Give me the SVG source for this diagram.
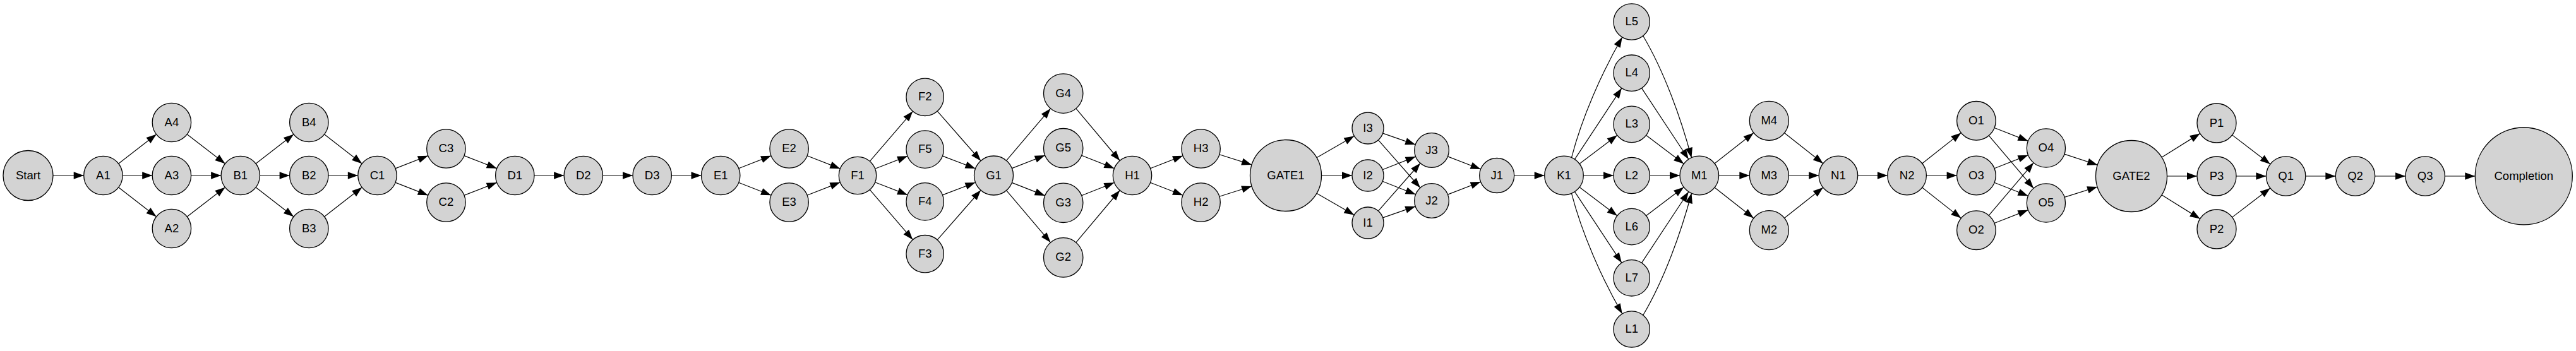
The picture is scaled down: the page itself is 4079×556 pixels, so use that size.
<svg xmlns="http://www.w3.org/2000/svg" width="4079" height="556" viewBox="0 0 4079 556">
<style>
.node circle{fill:#d3d3d3;stroke:#000;stroke-width:1.3}
.node text{font-family:"Liberation Sans",Arial,sans-serif;font-size:18.5px;text-anchor:middle;fill:#000}
.edge{fill:none;stroke:#000;stroke-width:1.2}
</style>
<defs>
<marker id="arrow" markerUnits="userSpaceOnUse" markerWidth="16" markerHeight="12" refX="16" refY="5.7" orient="auto" overflow="visible">
<path d="M0,0 L16,5.7 L0,11.4 z" fill="#000"/>
</marker>
</defs>
<rect x="0" y="0" width="4079" height="556" fill="#fff"/>
<g id="connectors" marker-end="url(#arrow)">
<path class="edge" marker-end="url(#arrow)" d="M84,278 L132.7,278"/>
<path class="edge" marker-end="url(#arrow)" d="M187.67,259.21 L247.63,212.79"/>
<path class="edge" marker-end="url(#arrow)" d="M194.1,278 L241.2,278"/>
<path class="edge" marker-end="url(#arrow)" d="M187.67,296.79 L247.63,343.21"/>
<path class="edge" marker-end="url(#arrow)" d="M296.21,212.75 L356.49,259.25"/>
<path class="edge" marker-end="url(#arrow)" d="M302.6,278 L350.1,278"/>
<path class="edge" marker-end="url(#arrow)" d="M296.21,343.25 L356.49,296.75"/>
<path class="edge" marker-end="url(#arrow)" d="M405.07,259.21 L465.03,212.79"/>
<path class="edge" marker-end="url(#arrow)" d="M411.5,278 L458.6,278"/>
<path class="edge" marker-end="url(#arrow)" d="M405.07,296.79 L465.03,343.21"/>
<path class="edge" marker-end="url(#arrow)" d="M513.55,212.83 L573.25,259.17"/>
<path class="edge" marker-end="url(#arrow)" d="M520,278 L566.8,278"/>
<path class="edge" marker-end="url(#arrow)" d="M513.55,343.17 L573.25,296.83"/>
<path class="edge" marker-end="url(#arrow)" d="M626.1,266.84 L677.8,246.66"/>
<path class="edge" marker-end="url(#arrow)" d="M626.1,289.16 L677.8,309.34"/>
<path class="edge" marker-end="url(#arrow)" d="M735,246.66 L786.7,266.84"/>
<path class="edge" marker-end="url(#arrow)" d="M735,309.34 L786.7,289.16"/>
<path class="edge" marker-end="url(#arrow)" d="M846,278 L893.1,278"/>
<path class="edge" marker-end="url(#arrow)" d="M954.5,278 L1002,278"/>
<path class="edge" marker-end="url(#arrow)" d="M1063.4,278 L1110.5,278"/>
<path class="edge" marker-end="url(#arrow)" d="M1169.78,266.79 L1221.02,246.71"/>
<path class="edge" marker-end="url(#arrow)" d="M1169.78,289.21 L1221.02,309.29"/>
<path class="edge" marker-end="url(#arrow)" d="M1278.18,246.71 L1330.35,267.16"/>
<path class="edge" marker-end="url(#arrow)" d="M1278.18,309.29 L1330.35,288.84"/>
<path class="edge" marker-end="url(#arrow)" d="M1377.35,255.47 L1445.35,176.33"/>
<path class="edge" marker-end="url(#arrow)" d="M1385.69,267.26 L1437.01,247.34"/>
<path class="edge" marker-end="url(#arrow)" d="M1385.69,288.74 L1437.01,308.66"/>
<path class="edge" marker-end="url(#arrow)" d="M1377.35,300.53 L1445.35,379.67"/>
<path class="edge" marker-end="url(#arrow)" d="M1484.27,176.14 L1553.07,254.68"/>
<path class="edge" marker-end="url(#arrow)" d="M1492.46,247.16 L1544.53,266.98"/>
<path class="edge" marker-end="url(#arrow)" d="M1492.46,308.84 L1544.53,289.02"/>
<path class="edge" marker-end="url(#arrow)" d="M1484.27,379.86 L1553.07,301.32"/>
<path class="edge" marker-end="url(#arrow)" d="M1593.55,254.36 L1663.52,171.89"/>
<path class="edge" marker-end="url(#arrow)" d="M1602.35,266.66 L1654.66,246.11"/>
<path class="edge" marker-end="url(#arrow)" d="M1602.35,289.34 L1654.66,309.89"/>
<path class="edge" marker-end="url(#arrow)" d="M1593.55,301.64 L1663.52,384.11"/>
<path class="edge" marker-end="url(#arrow)" d="M1703.79,171.97 L1773.24,254.51"/>
<path class="edge" marker-end="url(#arrow)" d="M1712.71,246.19 L1764.46,266.69"/>
<path class="edge" marker-end="url(#arrow)" d="M1712.71,309.81 L1764.46,289.31"/>
<path class="edge" marker-end="url(#arrow)" d="M1703.79,384.03 L1773.24,301.49"/>
<path class="edge" marker-end="url(#arrow)" d="M1821.59,266.81 L1873.01,246.69"/>
<path class="edge" marker-end="url(#arrow)" d="M1821.59,289.19 L1873.01,309.31"/>
<path class="edge" marker-end="url(#arrow)" d="M1930.87,244.76 L1982.13,260.97"/>
<path class="edge" marker-end="url(#arrow)" d="M1930.87,311.24 L1982.13,295.03"/>
<path class="edge" marker-end="url(#arrow)" d="M2084.94,249.77 L2144.34,215.49"/>
<path class="edge" marker-end="url(#arrow)" d="M2092.5,278 L2141,278"/>
<path class="edge" marker-end="url(#arrow)" d="M2084.94,306.23 L2144.34,340.51"/>
<path class="edge" marker-end="url(#arrow)" d="M2189.62,211.19 L2241.2,229.06"/>
<path class="edge" marker-end="url(#arrow)" d="M2182.5,221.78 L2248.99,297.49"/>
<path class="edge" marker-end="url(#arrow)" d="M2189.24,268.79 L2241.62,248.05"/>
<path class="edge" marker-end="url(#arrow)" d="M2189.24,287.21 L2241.62,307.95"/>
<path class="edge" marker-end="url(#arrow)" d="M2182.5,334.22 L2248.99,258.51"/>
<path class="edge" marker-end="url(#arrow)" d="M2189.62,344.81 L2241.2,326.94"/>
<path class="edge" marker-end="url(#arrow)" d="M2292.45,247.87 L2344.56,268.06"/>
<path class="edge" marker-end="url(#arrow)" d="M2292.45,308.13 L2344.56,287.94"/>
<path class="edge" marker-end="url(#arrow)" d="M2397.7,278 L2445.7,278"/>
<path class="edge" marker-end="url(#arrow)" d="M2488.5,249.6 C2504.8,186.55 2536.2,115.3 2568.7,59"/>
<path class="edge" marker-end="url(#arrow)" d="M2493.47,252.3 L2567.88,139.65"/>
<path class="edge" marker-end="url(#arrow)" d="M2501.06,259.42 L2560.81,214.21"/>
<path class="edge" marker-end="url(#arrow)" d="M2507.3,278 L2555,278"/>
<path class="edge" marker-end="url(#arrow)" d="M2501.06,296.58 L2560.81,341.79"/>
<path class="edge" marker-end="url(#arrow)" d="M2493.47,303.7 L2567.88,416.35"/>
<path class="edge" marker-end="url(#arrow)" d="M2488.5,306.4 C2504.8,369.45 2536.2,440.7 2568.7,497"/>
<path class="edge" marker-end="url(#arrow)" d="M2601.7,56.7 C2634.9,112.6 2661.8,187.2 2678.5,250"/>
<path class="edge" marker-end="url(#arrow)" d="M2599.51,139.66 L2673.84,252.29"/>
<path class="edge" marker-end="url(#arrow)" d="M2606.58,214.23 L2666.25,259.41"/>
<path class="edge" marker-end="url(#arrow)" d="M2612.4,278 L2660,278"/>
<path class="edge" marker-end="url(#arrow)" d="M2606.58,341.77 L2666.25,296.59"/>
<path class="edge" marker-end="url(#arrow)" d="M2599.51,416.34 L2673.84,303.71"/>
<path class="edge" marker-end="url(#arrow)" d="M2601.7,499.3 C2634.9,443.4 2661.8,368.8 2678.5,306"/>
<path class="edge" marker-end="url(#arrow)" d="M2715.03,258.99 L2776.75,210.56"/>
<path class="edge" marker-end="url(#arrow)" d="M2721.6,278 L2770.3,278"/>
<path class="edge" marker-end="url(#arrow)" d="M2715.03,297.01 L2776.75,345.44"/>
<path class="edge" marker-end="url(#arrow)" d="M2825.77,210.66 L2886.82,258.95"/>
<path class="edge" marker-end="url(#arrow)" d="M2832.3,278 L2880.2,278"/>
<path class="edge" marker-end="url(#arrow)" d="M2825.77,345.34 L2886.82,297.05"/>
<path class="edge" marker-end="url(#arrow)" d="M2941.6,278 L2988.9,278"/>
<path class="edge" marker-end="url(#arrow)" d="M3043.69,258.98 L3105.23,210.39"/>
<path class="edge" marker-end="url(#arrow)" d="M3050.3,278 L3098.6,278"/>
<path class="edge" marker-end="url(#arrow)" d="M3043.69,297.02 L3105.23,345.61"/>
<path class="edge" marker-end="url(#arrow)" d="M3158.09,202.51 L3211.4,223.36"/>
<path class="edge" marker-end="url(#arrow)" d="M3149.33,214.78 L3220.1,298.17"/>
<path class="edge" marker-end="url(#arrow)" d="M3158.06,266.72 L3211.43,245.71"/>
<path class="edge" marker-end="url(#arrow)" d="M3158.06,289.28 L3211.43,310.29"/>
<path class="edge" marker-end="url(#arrow)" d="M3149.33,341.22 L3220.1,257.83"/>
<path class="edge" marker-end="url(#arrow)" d="M3158.09,353.49 L3211.4,332.64"/>
<path class="edge" marker-end="url(#arrow)" d="M3268.96,244.07 L3321.34,261.32"/>
<path class="edge" marker-end="url(#arrow)" d="M3269.09,312.32 L3321.1,295.96"/>
<path class="edge" marker-end="url(#arrow)" d="M3422.97,249.15 L3483.68,211.38"/>
<path class="edge" marker-end="url(#arrow)" d="M3431.5,279 L3479,279"/>
<path class="edge" marker-end="url(#arrow)" d="M3422.97,308.85 L3483.68,346.62"/>
<path class="edge" marker-end="url(#arrow)" d="M3534.6,213.86 L3594.84,260.02"/>
<path class="edge" marker-end="url(#arrow)" d="M3541,279 L3588.4,279"/>
<path class="edge" marker-end="url(#arrow)" d="M3534.6,344.14 L3594.84,297.98"/>
<path class="edge" marker-end="url(#arrow)" d="M3650.8,279 L3698.3,279"/>
<path class="edge" marker-end="url(#arrow)" d="M3760.7,279 L3809,279"/>
<path class="edge" marker-end="url(#arrow)" d="M3871.4,279 L3919.3,279"/>
</g>
<g id="node-Start" class="node"><circle cx="44.5" cy="278" r="39.5"/><text x="44.5" y="283.5">Start</text></g>
<g id="node-A1" class="node"><circle cx="163.4" cy="278" r="30.7"/><text x="163.4" y="283.5">A1</text></g>
<g id="node-A4" class="node"><circle cx="271.9" cy="194" r="30.7"/><text x="271.9" y="199.5">A4</text></g>
<g id="node-A3" class="node"><circle cx="271.9" cy="278" r="30.7"/><text x="271.9" y="283.5">A3</text></g>
<g id="node-A2" class="node"><circle cx="271.9" cy="362" r="30.7"/><text x="271.9" y="367.5">A2</text></g>
<g id="node-B1" class="node"><circle cx="380.8" cy="278" r="30.7"/><text x="380.8" y="283.5">B1</text></g>
<g id="node-B4" class="node"><circle cx="489.3" cy="194" r="30.7"/><text x="489.3" y="199.5">B4</text></g>
<g id="node-B2" class="node"><circle cx="489.3" cy="278" r="30.7"/><text x="489.3" y="283.5">B2</text></g>
<g id="node-B3" class="node"><circle cx="489.3" cy="362" r="30.7"/><text x="489.3" y="367.5">B3</text></g>
<g id="node-C1" class="node"><circle cx="597.5" cy="278" r="30.7"/><text x="597.5" y="283.5">C1</text></g>
<g id="node-C3" class="node"><circle cx="706.4" cy="235.5" r="30.7"/><text x="706.4" y="241">C3</text></g>
<g id="node-C2" class="node"><circle cx="706.4" cy="320.5" r="30.7"/><text x="706.4" y="326">C2</text></g>
<g id="node-D1" class="node"><circle cx="815.3" cy="278" r="30.7"/><text x="815.3" y="283.5">D1</text></g>
<g id="node-D2" class="node"><circle cx="923.8" cy="278" r="30.7"/><text x="923.8" y="283.5">D2</text></g>
<g id="node-D3" class="node"><circle cx="1032.7" cy="278" r="30.7"/><text x="1032.7" y="283.5">D3</text></g>
<g id="node-E1" class="node"><circle cx="1141.2" cy="278" r="30.7"/><text x="1141.2" y="283.5">E1</text></g>
<g id="node-E2" class="node"><circle cx="1249.6" cy="235.5" r="30.7"/><text x="1249.6" y="241">E2</text></g>
<g id="node-E3" class="node"><circle cx="1249.6" cy="320.5" r="30.7"/><text x="1249.6" y="326">E3</text></g>
<g id="node-F1" class="node"><circle cx="1358" cy="278" r="29.7"/><text x="1358" y="283.5">F1</text></g>
<g id="node-F2" class="node"><circle cx="1464.7" cy="153.8" r="29.7"/><text x="1464.7" y="159.3">F2</text></g>
<g id="node-F5" class="node"><circle cx="1464.7" cy="236.6" r="29.7"/><text x="1464.7" y="242.1">F5</text></g>
<g id="node-F4" class="node"><circle cx="1464.7" cy="319.4" r="29.7"/><text x="1464.7" y="324.9">F4</text></g>
<g id="node-F3" class="node"><circle cx="1464.7" cy="402.2" r="29.7"/><text x="1464.7" y="407.7">F3</text></g>
<g id="node-G1" class="node"><circle cx="1573.5" cy="278" r="31"/><text x="1573.5" y="283.5">G1</text></g>
<g id="node-G4" class="node"><circle cx="1683.7" cy="148.1" r="31.2"/><text x="1683.7" y="153.6">G4</text></g>
<g id="node-G5" class="node"><circle cx="1683.7" cy="234.7" r="31.2"/><text x="1683.7" y="240.2">G5</text></g>
<g id="node-G3" class="node"><circle cx="1683.7" cy="321.3" r="31.2"/><text x="1683.7" y="326.8">G3</text></g>
<g id="node-G2" class="node"><circle cx="1683.7" cy="407.9" r="31.2"/><text x="1683.7" y="413.4">G2</text></g>
<g id="node-H1" class="node"><circle cx="1793" cy="278" r="30.7"/><text x="1793" y="283.5">H1</text></g>
<g id="node-H3" class="node"><circle cx="1901.6" cy="235.5" r="30.7"/><text x="1901.6" y="241">H3</text></g>
<g id="node-H2" class="node"><circle cx="1901.6" cy="320.5" r="30.7"/><text x="1901.6" y="326">H2</text></g>
<g id="node-GATE1" class="node"><circle cx="2036" cy="278" r="56.5"/><text x="2036" y="283.5">GATE1</text></g>
<g id="node-I3" class="node"><circle cx="2166" cy="203" r="25"/><text x="2166" y="208.5">I3</text></g>
<g id="node-I2" class="node"><circle cx="2166" cy="278" r="25"/><text x="2166" y="283.5">I2</text></g>
<g id="node-I1" class="node"><circle cx="2166" cy="353" r="25"/><text x="2166" y="358.5">I1</text></g>
<g id="node-J3" class="node"><circle cx="2267" cy="238" r="27.3"/><text x="2267" y="243.5">J3</text></g>
<g id="node-J2" class="node"><circle cx="2267" cy="318" r="27.3"/><text x="2267" y="323.5">J2</text></g>
<g id="node-J1" class="node"><circle cx="2370.2" cy="278" r="27.5"/><text x="2370.2" y="283.5">J1</text></g>
<g id="node-K1" class="node"><circle cx="2476.5" cy="278" r="30.8"/><text x="2476.5" y="283.5">K1</text></g>
<g id="node-L5" class="node"><circle cx="2583.7" cy="34.5" r="28.7"/><text x="2583.7" y="40">L5</text></g>
<g id="node-L4" class="node"><circle cx="2583.7" cy="115.7" r="28.7"/><text x="2583.7" y="121.2">L4</text></g>
<g id="node-L3" class="node"><circle cx="2583.7" cy="196.9" r="28.7"/><text x="2583.7" y="202.4">L3</text></g>
<g id="node-L2" class="node"><circle cx="2583.7" cy="278" r="28.7"/><text x="2583.7" y="283.5">L2</text></g>
<g id="node-L6" class="node"><circle cx="2583.7" cy="359.1" r="28.7"/><text x="2583.7" y="364.6">L6</text></g>
<g id="node-L7" class="node"><circle cx="2583.7" cy="440.3" r="28.7"/><text x="2583.7" y="445.8">L7</text></g>
<g id="node-L1" class="node"><circle cx="2583.7" cy="521.5" r="28.7"/><text x="2583.7" y="527">L1</text></g>
<g id="node-M1" class="node"><circle cx="2690.8" cy="278" r="30.8"/><text x="2690.8" y="283.5">M1</text></g>
<g id="node-M4" class="node"><circle cx="2801.3" cy="191.3" r="31"/><text x="2801.3" y="196.8">M4</text></g>
<g id="node-M3" class="node"><circle cx="2801.3" cy="278" r="31"/><text x="2801.3" y="283.5">M3</text></g>
<g id="node-M2" class="node"><circle cx="2801.3" cy="364.7" r="31"/><text x="2801.3" y="370.2">M2</text></g>
<g id="node-N1" class="node"><circle cx="2910.9" cy="278" r="30.8"/><text x="2910.9" y="283.5">N1</text></g>
<g id="node-N2" class="node"><circle cx="3019.6" cy="278" r="30.8"/><text x="3019.6" y="283.5">N2</text></g>
<g id="node-O1" class="node"><circle cx="3129.4" cy="191.3" r="30.8"/><text x="3129.4" y="196.8">O1</text></g>
<g id="node-O3" class="node"><circle cx="3129.4" cy="278" r="30.8"/><text x="3129.4" y="283.5">O3</text></g>
<g id="node-O2" class="node"><circle cx="3129.4" cy="364.7" r="30.8"/><text x="3129.4" y="370.2">O2</text></g>
<g id="node-O4" class="node"><circle cx="3239.9" cy="234.5" r="30.6"/><text x="3239.9" y="240">O4</text></g>
<g id="node-O5" class="node"><circle cx="3239.9" cy="321.5" r="30.6"/><text x="3239.9" y="327">O5</text></g>
<g id="node-GATE2" class="node"><circle cx="3375" cy="279" r="56.5"/><text x="3375" y="284.5">GATE2</text></g>
<g id="node-P1" class="node"><circle cx="3510" cy="195" r="31"/><text x="3510" y="200.5">P1</text></g>
<g id="node-P3" class="node"><circle cx="3510" cy="279" r="31"/><text x="3510" y="284.5">P3</text></g>
<g id="node-P2" class="node"><circle cx="3510" cy="363" r="31"/><text x="3510" y="368.5">P2</text></g>
<g id="node-Q1" class="node"><circle cx="3619.6" cy="279" r="31.2"/><text x="3619.6" y="284.5">Q1</text></g>
<g id="node-Q2" class="node"><circle cx="3729.5" cy="279" r="31.2"/><text x="3729.5" y="284.5">Q2</text></g>
<g id="node-Q3" class="node"><circle cx="3840.2" cy="279" r="31.2"/><text x="3840.2" y="284.5">Q3</text></g>
<g id="node-Completion" class="node"><circle cx="3996.3" cy="279" r="77"/><text x="3996.3" y="284.5">Completion</text></g>
</svg>
